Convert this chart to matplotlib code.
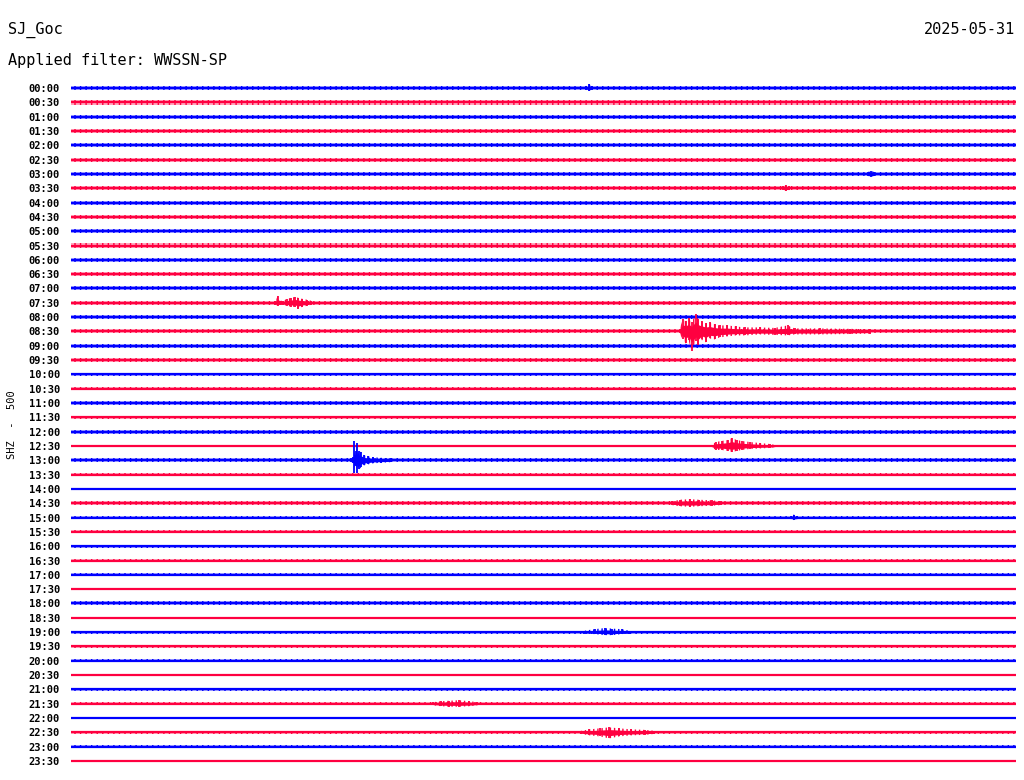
import matplotlib
matplotlib.use("Agg")
import matplotlib.pyplot as plt
import numpy as np

# ---------------- data ----------------
station = "SJ_Goc"
date_label = "2025-05-31"
filter_label = "Applied filter: WWSSN-SP"
channel_label = "SHZ  -  500"

row_labels = [f"{h:02d}:{m:02d}" for h in range(24) for m in (0, 30)]
minutes_per_row = 30

# background noise half-amplitude per row (counts)
noise_level = [2.2, 2.4, 2.0, 2.0, 2.2, 2.0, 2.0, 2.2, 2.0, 2.0, 2.0, 2.2,
               1.8, 1.8, 2.0, 2.0, 2.0, 2.0, 2.0, 1.8, 1.8, 1.6, 1.6, 1.8,
               2.0, 1.2, 1.8, 1.6, 1.2, 1.8, 1.8, 1.6, 1.4, 1.8, 1.4, 1.0,
               2.0, 1.2, 1.4, 1.8, 1.6, 1.0, 1.8, 1.6, 0.8, 1.6, 1.6, 0.8]

# events: row index, time (minutes in row), upward amplitude, downward amplitude
ev_0730_row = 15
ev_0730_t = [6.48, 6.57, 6.64, 6.73, 6.86, 6.99, 7.12, 7.21, 7.34, 7.50, 7.63]
ev_0730_up = [2, 7, 2, 2, 4, 5, 6, 5, 4, 3, 2]
ev_0730_dn = [2, 3, 2, 2, 3, 4, 4, 6, 4, 3, 2]

ev_0830_row = 17
ev_0830_t = [19.32, 19.42, 19.51, 19.61, 19.70, 19.83, 19.92, 20.02, 20.15, 20.27,
             20.43, 20.59, 20.84, 21.10, 21.39, 21.86, 22.34, 22.75, 22.97, 23.77, 24.72, 25.36]
ev_0830_up = [2, 12, 10, 13, 9, 17, 12, 10, 8, 9, 7, 6, 6, 5, 4, 4, 3.5, 6, 3, 3, 2.6, 2.2]
ev_0830_dn = [2, 8, 12, 9, 20, 10, 14, 8, 11, 7, 8, 6, 5, 4, 4, 3, 3.5, 4, 3, 3, 2.6, 2.2]

ev_1230_row = 25
ev_1230_t = [20.34, 20.47, 20.66, 20.85, 20.97, 21.13, 21.29, 21.54, 21.86, 22.18, 22.34]
ev_1230_up = [1.2, 4, 5, 6, 8, 6, 5, 4, 3, 2, 1.2]
ev_1230_dn = [1.2, 4, 4, 5, 6, 5, 4, 3, 2.5, 2, 1.2]

ev_1300_row = 26
ev_1300_t = [8.90, 8.96, 8.99, 9.02, 9.06, 9.09, 9.15, 9.21, 9.31, 9.44, 9.60, 9.85, 10.17]
ev_1300_up = [1.8, 3, 19, 5, 9, 17, 9, 8, 5, 4, 3, 2.5, 1.8]
ev_1300_dn = [1.8, 3, 13, 5, 6, 13, 9, 7, 5, 4, 3, 2.5, 1.8]

ev_1430_row = 29
ev_1430_t = [19.07, 19.32, 19.64, 19.95, 20.34, 20.65]
ev_1430_up = [1.8, 3.5, 4, 3.5, 3, 1.8]
ev_1430_dn = [1.8, 3, 3.5, 3, 2.5, 1.8]

ev_1900_row = 38
ev_1900_t = [16.30, 16.62, 16.94, 17.19, 17.48, 17.73]
ev_1900_up = [1.4, 3, 4, 3.5, 3, 1.4]
ev_1900_dn = [1.4, 2, 3, 3, 2, 1.4]

ev_2130_row = 43
ev_2130_t = [11.50, 11.75, 12.01, 12.33, 12.65, 12.90]
ev_2130_up = [1.6, 2.5, 3, 3.5, 2.5, 1.6]
ev_2130_dn = [1.6, 2.5, 3, 3, 2.5, 1.6]

ev_2230_row = 45
ev_2230_t = [16.20, 16.46, 16.78, 17.09, 17.41, 17.79, 18.21, 18.52]
ev_2230_up = [1.6, 3, 4, 5, 4, 3, 2.5, 1.6]
ev_2230_dn = [1.6, 3, 4, 6, 4, 3, 2.5, 1.6]

ev_small_rows = [0, 6, 7, 30]
ev_small_t = [[16.35, 16.45, 16.55], [25.30, 25.40, 25.50], [22.60, 22.70, 22.80], [22.85, 22.95, 23.05]]
ev_small_up = [[2, 4, 2], [2, 3, 2], [2, 3, 2], [1.8, 3, 1.8]]
ev_small_dn = [[2, 3, 2], [2, 3, 2], [2, 2.5, 2], [1.8, 2.5, 1.8]]

# ---------------- drawing ----------------
BLUE = "#0000FF"
RED = "#FF0040"
counts_per_row = 14.3   # amplitude units per trace spacing

plt.rcParams["hatch.linewidth"] = 1.0

fig = plt.figure(figsize=(10.24, 7.80), dpi=100)
fig.patch.set_facecolor("white")

n_rows = len(row_labels)
top_px, bot_px = 80, 769
ax = fig.add_axes([71 / 1024, 1 - bot_px / 780, 945 / 1024, (bot_px - top_px) / 780])
ax.set_xlim(0, minutes_per_row)
ax.set_ylim(n_rows - 1 + (bot_px - 761) / 14.32, -(88 - top_px) / 14.32)
for s in ax.spines.values():
    s.set_visible(False)
ax.set_xticks([])
ax.set_yticks(range(n_rows))
ax.set_yticklabels(row_labels, family="DejaVu Sans Mono", fontsize=7.5, fontweight="bold")
ax.tick_params(axis="y", length=0, pad=8)

def color_of(r):
    return BLUE if r % 2 == 0 else RED

for r in range(n_rows):
    c = color_of(r)
    a = noise_level[r] / counts_per_row
    ax.fill_between([0, minutes_per_row], [r - a, r - a], [r + a, r + a],
                    facecolor=c, alpha=0.35, linewidth=0)
    ax.fill_between([0, minutes_per_row], [r - a, r - a], [r + a, r + a],
                    facecolor="none", edgecolor=c, hatch="|||", linewidth=0)
    ax.plot([0, minutes_per_row], [r, r], color=c, lw=1.6, solid_capstyle="butt")

events = [
    (ev_0730_row, ev_0730_t, ev_0730_up, ev_0730_dn),
    (ev_0830_row, ev_0830_t, ev_0830_up, ev_0830_dn),
    (ev_1230_row, ev_1230_t, ev_1230_up, ev_1230_dn),
    (ev_1300_row, ev_1300_t, ev_1300_up, ev_1300_dn),
    (ev_1430_row, ev_1430_t, ev_1430_up, ev_1430_dn),
    (ev_1900_row, ev_1900_t, ev_1900_up, ev_1900_dn),
    (ev_2130_row, ev_2130_t, ev_2130_up, ev_2130_dn),
    (ev_2230_row, ev_2230_t, ev_2230_up, ev_2230_dn),
]
for r, t, up, dn in zip(ev_small_rows, ev_small_t, ev_small_up, ev_small_dn):
    events.append((r, t, up, dn))

for r, t, up, dn in events:
    c = color_of(r)
    t = np.asarray(t)
    up = np.asarray(up) / counts_per_row
    dn = np.asarray(dn) / counts_per_row
    ax.fill_between(t, r - up * 0.55, r + dn * 0.55, color=c, linewidth=0)
    ax.fill_between(t, r - up, r + dn, facecolor="none", edgecolor=c,
                    hatch="||||", linewidth=0)
    ax.vlines(t, r - up, r + dn, color=c, lw=1.3)

txt = dict(family="DejaVu Sans Mono", fontsize=11, va="center")
fig.text(8 / 1024, 1 - 30 / 780, station, ha="left", **txt)
fig.text(1015 / 1024, 1 - 30 / 780, date_label, ha="right", **txt)
fig.text(8 / 1024, 1 - 60 / 780, filter_label, ha="left", **txt)
fig.text(12 / 1024, 1 - 425 / 780, channel_label, rotation=90, ha="center", va="center",
         family="DejaVu Sans Mono", fontsize=7.5)

fig.savefig("out.png", dpi=100, facecolor="white")
